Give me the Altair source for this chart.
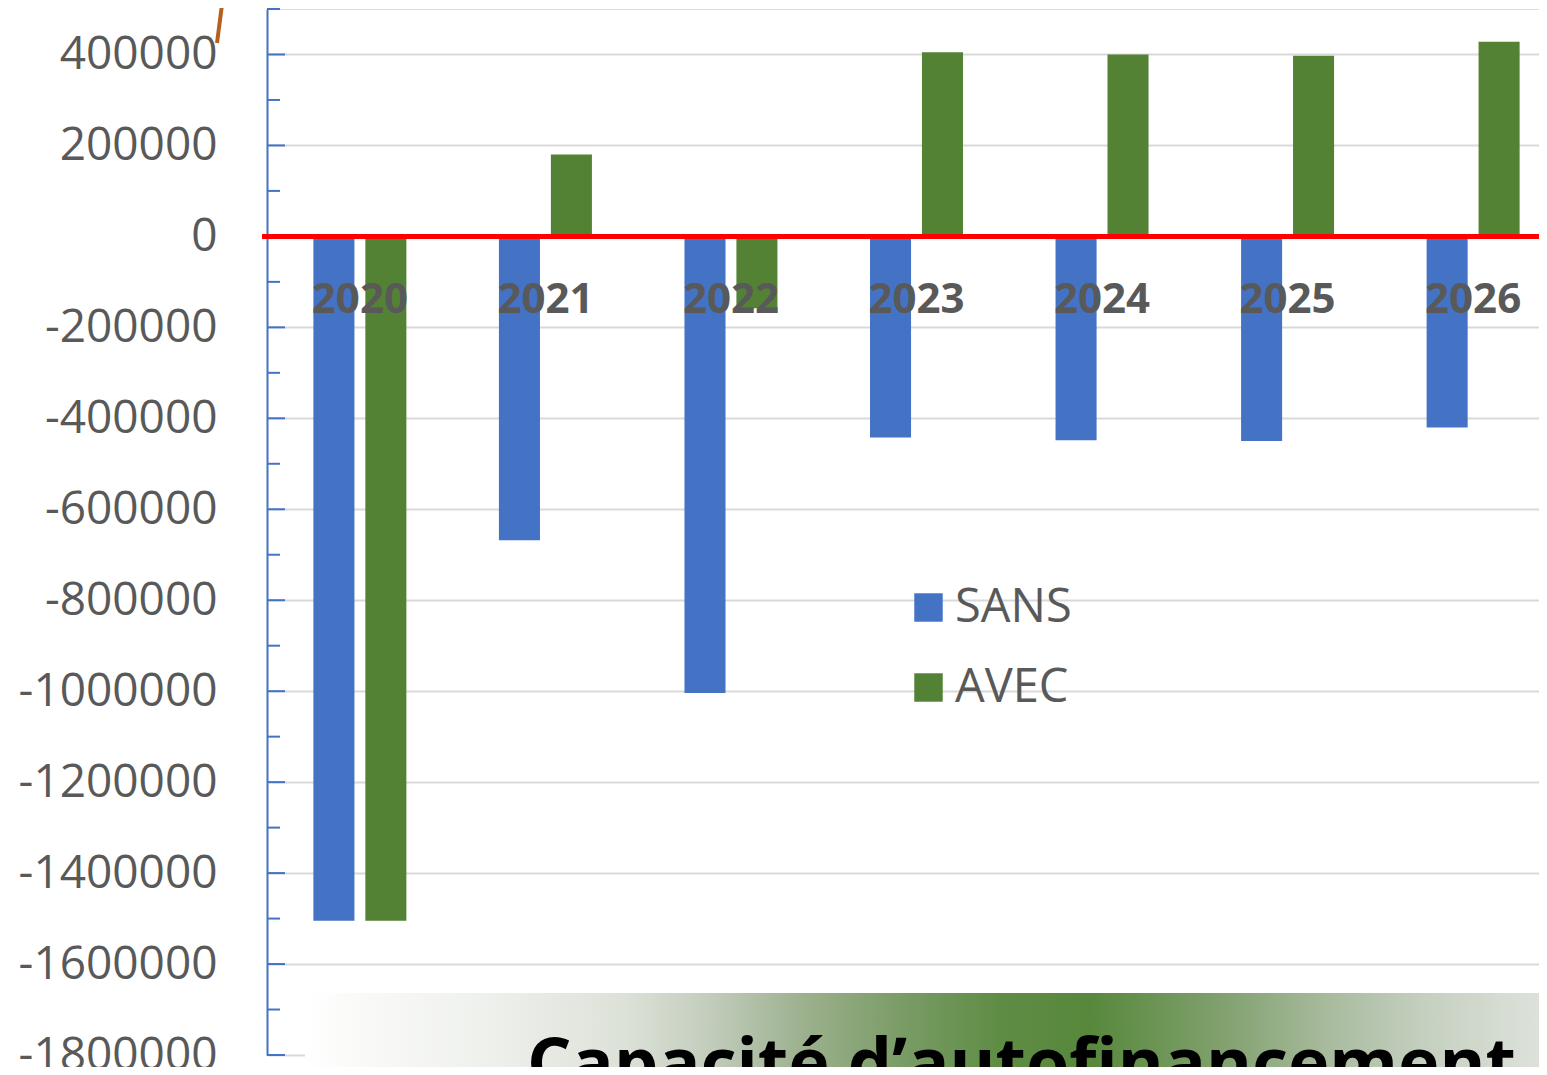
import altair as alt
import pandas as pd

# ---- data ----
years = ["2020", "2021", "2022", "2023", "2024", "2025", "2026"]
sans = [-1505000, -668000, -1004000, -442000, -448000, -450000, -420000]
avec = [-1505000, 180000, -158000, 405000, 400000, 397000, 428000]
series = ["SANS", "AVEC"]
series_colors = ["#4472C4", "#548235"]

major_ticks = [-1800000, -1600000, -1400000, -1200000, -1000000, -800000,
               -600000, -400000, -200000, 0, 200000, 400000]
minor_ticks = [-1700000, -1500000, -1300000, -1100000, -900000, -700000,
               -500000, -300000, -100000, 100000, 300000, 500000]
y_domain = [-1800000, 500000]
title_text = "Capacité d\u2019autofinancement"

# ---- layout ----
W = 1272          # visible plot width (to the page's right margin)
H = 1046
BAND_RANGE = 1299  # band scale continues past the cropped right edge

rows = []
for i, y in enumerate(years):
    rows.append({"year": y, "serie": "SANS", "value": sans[i]})
    rows.append({"year": y, "serie": "AVEC", "value": avec[i]})
df = pd.DataFrame(rows)

yscale = alt.Scale(domain=y_domain, nice=False, zero=False)
xscale = alt.Scale(domain=years, paddingInner=0.4988, paddingOuter=0.25,
                   rangeMax=BAND_RANGE)

bars = alt.Chart(df).mark_bar().encode(
    x=alt.X("year:N", scale=xscale, axis=None),
    xOffset=alt.XOffset("serie:N", scale=alt.Scale(domain=series, paddingInner=0.21, paddingOuter=0)),
    y=alt.Y("value:Q", scale=yscale, axis=alt.Axis(
        values=major_ticks, labelExpr="datum.value + ''",
        labelFont="Open Sans", labelFontSize=46, labelColor="#595959",
        labelPadding=50, labelLimit=0, ticks=False, tickSize=0,
        domainColor="#4472C4", domainWidth=2,
        grid=True, gridColor="#d9d9d9", gridWidth=2,
        title=None, labelOverlap=False)),
    color=alt.Color("serie:N", scale=alt.Scale(domain=series, range=series_colors),
                    legend=alt.Legend(
                        orient="none", legendX=638, legendY=575, title=None,
                        symbolType="square", symbolSize=810, symbolStrokeWidth=0,
                        labelFont="Open Sans", labelFontSize=47, labelColor="#595959",
                        labelOffset=3, rowPadding=32, padding=0, labelLimit=0)),
)

major_df = pd.DataFrame({"v": major_ticks})
minor_df = pd.DataFrame({"v": minor_ticks})
major_rules = alt.Chart(major_df).mark_rule(color="#4472C4", strokeWidth=2).encode(
    y=alt.Y("v:Q", scale=yscale), x=alt.value(0), x2=alt.value(18))
minor_rules = alt.Chart(minor_df).mark_rule(color="#4472C4", strokeWidth=2).encode(
    y=alt.Y("v:Q", scale=yscale), x=alt.value(0), x2=alt.value(13))

zero_df = pd.DataFrame({"v": [0]})
zero_line = alt.Chart(zero_df).mark_rule(color="#FF0000", strokeWidth=5).encode(
    y=alt.Y("v:Q", scale=yscale), x=alt.value(-5), x2=alt.value(W))

year_df = pd.DataFrame({"year": years, "v": [0] * len(years)})
year_labels = alt.Chart(year_df).mark_text(
    font="Open Sans", fontSize=42, fontWeight="bold", color="#595959",
    baseline="alphabetic", align="center", dy=77).encode(
    x=alt.X("year:N", scale=xscale),
    y=alt.Y("v:Q", scale=yscale),
    text="year:N")

grad = alt.Gradient(
    gradient="linear", x1=0, x2=1, y1=0, y2=0,
    stops=[
        alt.GradientStop(offset=0.0, color="#ffffff"),
        alt.GradientStop(offset=0.03, color="#fbfcfa"),
        alt.GradientStop(offset=0.15, color="#eef0ec"),
        alt.GradientStop(offset=0.256, color="#dde2d8"),
        alt.GradientStop(offset=0.324, color="#c3cdbd"),
        alt.GradientStop(offset=0.40, color="#9db18f"),
        alt.GradientStop(offset=0.48, color="#7a9c66"),
        alt.GradientStop(offset=0.56, color="#5f8c45"),
        alt.GradientStop(offset=0.632, color="#57883b"),
        alt.GradientStop(offset=0.737, color="#80a06d"),
        alt.GradientStop(offset=0.817, color="#a5b99a"),
        alt.GradientStop(offset=0.898, color="#c4cfbf"),
        alt.GradientStop(offset=0.978, color="#d9dfd6"),
        alt.GradientStop(offset=1.0, color="#dde2da"),
    ])
box_df = pd.DataFrame({"label": [title_text]})
title_box = alt.Chart(box_df).mark_rect(fill=grad, strokeWidth=0).encode(
    x=alt.value(38), x2=alt.value(W + 8), y=alt.value(984), y2=alt.value(1080))
title_txt = alt.Chart(box_df).mark_text(
    font="Open Sans", fontSize=70, fontWeight="bold", color="#000000",
    align="left", baseline="alphabetic").encode(
    x=alt.value(260), y=alt.value(1079), text="label:N")

arrow_df = pd.DataFrame({"a": [0]})
arrow = alt.Chart(arrow_df).mark_rule(color="#b5601f", strokeWidth=4).encode(
    x=alt.value(-50), y=alt.value(34), x2=alt.value(-44), y2=alt.value(-12))

chart = alt.layer(
    bars, major_rules, minor_rules, zero_line, year_labels, title_box, title_txt, arrow
).properties(
    width=W, height=H,
    autosize=alt.AutoSizeParams(type="none"),
    padding={"left": 259, "top": 1, "right": 0, "bottom": 12},
).configure_view(strokeWidth=0).configure(background="#ffffff")

chart.save("out.html", embed_options={"renderer": "svg", "actions": False})
